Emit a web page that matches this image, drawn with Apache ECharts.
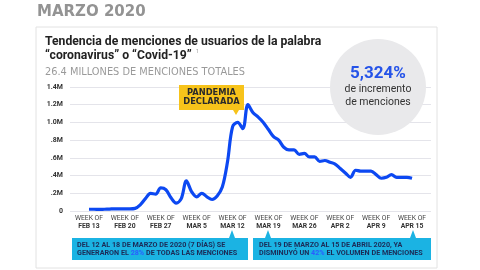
<!DOCTYPE html>
<html>
<head>
<meta charset="utf-8">
<script src="https://cdn.jsdelivr.net/npm/echarts@6/dist/echarts.min.js"></script>
<style>
html,body{margin:0;padding:0;background:#fff;}
#c{width:480px;height:270px;}
</style>
</head>
<body>
<div id="c"></div>
<script>
// Daily mentions (millions), Feb 13 -> Apr 15 (64 points)
var dayValues = [
  0.02, 0.02, 0.018, 0.02, 0.022, 0.025, 0.025, 0.025, 0.025, 0.03,
  0.07, 0.14, 0.2, 0.19, 0.26, 0.24, 0.15, 0.09, 0.14, 0.34,
  0.22, 0.16, 0.2, 0.16, 0.13, 0.17, 0.27, 0.55, 0.95, 1.0,
  0.93, 1.2, 1.11, 1.06, 1.0, 0.92, 0.84, 0.8, 0.72, 0.69,
  0.69, 0.64, 0.65, 0.61, 0.61, 0.56, 0.57, 0.55, 0.53, 0.48,
  0.43, 0.38, 0.46, 0.45, 0.45, 0.45, 0.41, 0.37, 0.38, 0.41,
  0.38, 0.38, 0.38, 0.37
];
var weekLabels = ['FEB 13','FEB 20','FEB 27','MAR 5','MAR 12','MAR 19','MAR 26','APR 2','APR 9','APR 15'];
var yTickLabels = ['0','.2M','.4M','.6M','.8M','1.0M','1.2M','1.4M'];

var seriesData = dayValues.map(function(v,i){return [i,v];});
var weekTicks = weekLabels.map(function(_,i){return i*7;});

var chart = echarts.init(document.getElementById('c'), null, {renderer:'canvas'});
var navy = '#1c2b57';
var cyan = '#1bb3e3';
var calloutRich = {
  n:{fontFamily:'Roboto',fontWeight:'bold',fontSize:7.2,fill:navy,lineHeight:7.8},
  h:{fontFamily:'Roboto',fontWeight:'bold',fontSize:7.2,fill:'#2b5cff',lineHeight:7.8}
};
chart.setOption({
  animation:false,
  backgroundColor:'#ffffff',
  grid:{left:70,right:49,top:87,bottom:59},
  xAxis:{
    type:'value', min:-3.7, max:66.7,
    axisLine:{show:false}, axisTick:{show:false}, splitLine:{show:false},
    axisLabel:{
      customValues: weekTicks,
      margin:3,
      formatter:function(v){var i=Math.round(v/7);return '{a|WEEK OF}\n{b|'+weekLabels[i]+'}';},
      rich:{
        a:{fontFamily:'Roboto',fontSize:6.8,color:'#444',lineHeight:8,align:'center'},
        b:{fontFamily:'Roboto',fontSize:6.8,fontWeight:'bold',color:'#333',lineHeight:8,align:'center'}
      }
    }
  },
  yAxis:{
    type:'value', min:0, max:1.4, interval:0.2,
    axisLine:{show:false}, axisTick:{show:false},
    splitLine:{lineStyle:{color:'#e4e4ea',width:1}},
    axisLabel:{
      margin:7,
      fontFamily:'Roboto',fontSize:7,fontWeight:'bold',color:'#333',
      formatter:function(v){return yTickLabels[Math.round(v/0.2)];}
    }
  },
  series:[{
    type:'line', data:seriesData, smooth:0.35, showSymbol:false,
    lineStyle:{color:'#0c48f2',width:3.2}, z:5
  }],
  graphic:[
    {type:'rect',z:-10,shape:{x:36,y:27,width:401,height:241},style:{fill:'#fff',stroke:'#e2e2e2',lineWidth:1}},
    {type:'text',x:37,y:12,style:{text:'MARZO 2020',fontFamily:'DejaVu Sans',fontWeight:'bold',fontSize:15,fill:'#939393',verticalAlign:'middle'}},
    {type:'text',x:45,y:42,style:{text:'Tendencia de menciones de usuarios de la palabra',fontFamily:'Roboto',fontWeight:'bold',fontSize:12.2,fill:'#222',verticalAlign:'middle'}},
    {type:'text',x:45,y:56,style:{text:'“coronavirus” o “Covid-19”',fontFamily:'Roboto',fontWeight:'bold',fontSize:12.2,fill:'#222',verticalAlign:'middle'}},
    {type:'text',x:196,y:52,style:{text:'1',fontFamily:'Roboto',fontSize:5,fill:'#999',verticalAlign:'middle'}},
    {type:'text',x:45,y:72,style:{text:'26.4 MILLONES DE MENCIONES TOTALES',fontFamily:'DejaVu Sans',fontSize:9.8,fill:'#9a9a9a',verticalAlign:'middle'}},
    {type:'circle',z:20,shape:{cx:378,cy:87,r:48},style:{fill:'#e9e9eb'}},
    {type:'text',z:21,x:378,y:74,style:{text:'5,324%',fontFamily:'Roboto',fontWeight:'bold',fontSize:17,fill:'#2553e8',align:'center',verticalAlign:'middle'}},
    {type:'text',z:21,x:378,y:89,style:{text:'de incremento',fontFamily:'Roboto',fontSize:10.5,fill:'#333',align:'center',verticalAlign:'middle'}},
    {type:'text',z:21,x:378,y:102,style:{text:'de menciones',fontFamily:'Roboto',fontSize:10.5,fill:'#333',align:'center',verticalAlign:'middle'}},
    // Pandemia callout
    {type:'rect',z:20,shape:{x:179,y:85,width:65,height:25},style:{fill:'#f7c31a'}},
    {type:'polygon',z:20,shape:{points:[[233,110],[239,110],[236,115]]},style:{fill:'#f7c31a'}},
    {type:'text',z:21,x:211.5,y:97.5,style:{text:'PANDEMIA\nDECLARADA',fontFamily:'DejaVu Sans',fontWeight:'bold',fontSize:8.3,lineHeight:9.5,fill:'#2a2a2a',align:'center',verticalAlign:'middle'}},
    // Left blue callout
    {type:'rect',z:20,shape:{x:72,y:238,width:176,height:22},style:{fill:cyan}},
    {type:'polygon',z:20,shape:{points:[[229,238],[235,238],[232,230]]},style:{fill:cyan}},
    {type:'text',z:21,x:77,y:249.5,style:{
      text:'{n|DEL 12 AL 18 DE MARZO DE 2020 (7 DÍAS) SE}\n{n|GENERARON EL }{h|28%}{n| DE TODAS LAS MENCIONES}',
      verticalAlign:'middle', rich:calloutRich
    }},
    // Right blue callout
    {type:'rect',z:20,shape:{x:253,y:238,width:178,height:22},style:{fill:cyan}},
    {type:'polygon',z:20,shape:{points:[[265,238],[271,238],[268,230]]},style:{fill:cyan}},
    {type:'polygon',z:20,shape:{points:[[410,238],[416,238],[413,230]]},style:{fill:cyan}},
    {type:'text',z:21,x:259,y:249.5,style:{
      text:'{n|DEL 19 DE MARZO AL 15 DE ABRIL 2020, YA}\n{n|DISMINUYÓ UN }{h|42%}{n| EL VOLUMEN DE MENCIONES}',
      verticalAlign:'middle', rich:calloutRich
    }}
  ]
});
</script>
</body>
</html>
